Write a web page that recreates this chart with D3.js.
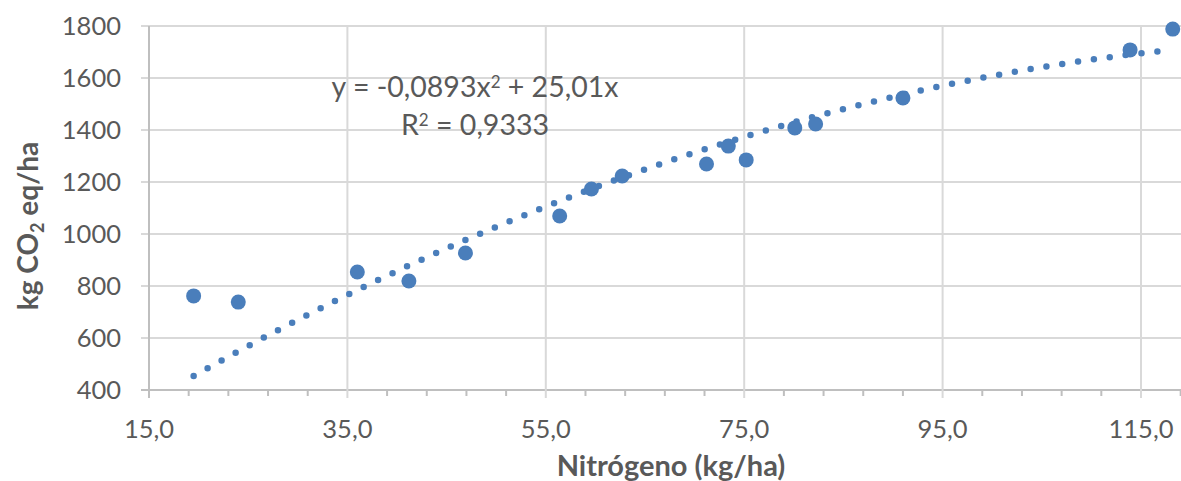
<!DOCTYPE html>
<html>
<head>
<meta charset="utf-8">
<script src="https://cdn.jsdelivr.net/npm/d3@7"></script>
<style>
  body { margin: 0; background: #fff; }
  text { font-family: Lato, "Open Sans", sans-serif; }
</style>
</head>
<body>
<div class="chart"></div>
<script>
// nitrogen applied (kg/ha) and emissions (kg CO2 eq/ha)
var nitrogen = [19.5, 24.0, 36.0, 41.2, 46.9, 56.4, 59.6, 62.7, 71.2, 73.4, 75.2, 80.1, 82.2, 91.0, 113.9, 118.2];
var emissions = [762, 738, 854, 819, 927, 1069, 1173, 1223, 1269, 1338, 1285, 1408, 1423, 1523, 1708, 1788];

// polynomial trendline (order 2, intercept 0)
var trendCoef = [-0.0893, 25.01];
var trendLabel = ['y = -0,0893x', '2', ' + 25,01x'];
var r2Label = ['R', '2', ' = 0,9333'];

var xTicks = [15, 35, 55, 75, 95, 115];
var yTicks = [400, 600, 800, 1000, 1200, 1400, 1600, 1800];

function init() {
  var width = 1181,
      height = 481,
      left = 149,
      right = 1181,
      top = 26,
      bottom = 390,
      blue = '#4a7ebb',
      grid = '#d9d9d9',
      label = '#595959';

  var x = d3.scaleLinear().domain([15, 119]).range([left, 149 + 104 * 9.92]);
  var y = d3.scaleLinear().domain([400, 1800]).range([bottom, top]);

  var svg = d3.select('.chart')
    .append('svg')
      .attr('width', width)
      .attr('height', height);

  // horizontal gridlines + y ticks
  svg.append('g').selectAll('line').data(yTicks).enter()
    .append('line')
      .attr('x1', left - 8)
      .attr('x2', right)
      .attr('y1', function(d) { return y(d); })
      .attr('y2', function(d) { return y(d); })
      .style('stroke', function(d) { return d === 400 ? '#bfbfbf' : grid; })
      .style('stroke-width', 2);

  // vertical gridlines
  svg.append('g').selectAll('line').data(xTicks).enter()
    .append('line')
      .attr('x1', function(d) { return x(d); })
      .attr('x2', function(d) { return x(d); })
      .attr('y1', top)
      .attr('y2', bottom + 8)
      .style('stroke', function(d) { return d === 15 ? '#bfbfbf' : grid; })
      .style('stroke-width', 2);

  // minor x ticks every 4
  var minor = d3.range(15, 120, 4).filter(function(d) { return (d - 15) % 20 !== 0; });
  svg.append('g').selectAll('line').data(minor).enter()
    .append('line')
      .attr('x1', function(d) { return x(d); })
      .attr('x2', function(d) { return x(d); })
      .attr('y1', bottom)
      .attr('y2', bottom + 6)
      .style('stroke', '#bfbfbf')
      .style('stroke-width', 2);

  // tick labels
  svg.append('g').selectAll('text').data(yTicks).enter()
    .append('text')
      .attr('x', 121)
      .attr('y', function(d) { return y(d); })
      .attr('dy', '0.36em')
      .attr('text-anchor', 'end')
      .style('font-size', '25.5px')
      .style('fill', label)
      .text(function(d) { return d; });

  svg.append('g').selectAll('text').data(xTicks).enter()
    .append('text')
      .attr('x', function(d) { return x(d); })
      .attr('y', 438)
      .attr('text-anchor', 'middle')
      .style('font-size', '25.5px')
      .style('fill', label)
      .text(function(d) { return d.toFixed(1).replace('.', ','); });

  // axis titles
  svg.append('text')
      .attr('x', 671)
      .attr('y', 476)
      .attr('text-anchor', 'middle')
      .style('font-size', '29px')
      .style('font-weight', 'bold')
      .style('fill', label)
      .text('Nitrógeno (kg/ha)');

  var yTitle = svg.append('text')
      .attr('transform', 'translate(38,226) rotate(-90)')
      .attr('text-anchor', 'middle')
      .style('font-size', '28px')
      .style('font-weight', 'bold')
      .style('fill', label);
  yTitle.append('tspan').text('kg CO');
  yTitle.append('tspan').attr('dy', 6).style('font-size', '18px').text('2');
  yTitle.append('tspan').attr('dy', -6).text(' eq/ha');

  // trendline
  var xMin = d3.min(nitrogen), xMax = d3.max(nitrogen);
  var trendX = d3.range(xMin, xMax, 0.25).concat([xMax]);
  var line = d3.line()
    .x(function(d) { return x(d); })
    .y(function(d) { return y(trendCoef[0] * d * d + trendCoef[1] * d); });

  svg.append('path')
      .datum(trendX)
      .attr('d', line)
      .style('fill', 'none')
      .style('stroke', blue)
      .style('stroke-width', 6.5)
      .style('stroke-linecap', 'round')
      .style('stroke-dasharray', '0 16');

  // points
  svg.append('g').selectAll('circle').data(nitrogen).enter()
    .append('circle')
      .attr('cx', function(d) { return x(d); })
      .attr('cy', function(d, i) { return y(emissions[i]); })
      .attr('r', 7.5)
      .style('fill', blue);

  // equation label
  function richText(parts, cx, cy) {
    var t = svg.append('text')
        .attr('x', cx)
        .attr('y', cy)
        .attr('text-anchor', 'middle')
        .style('font-size', '28.5px')
        .style('fill', label);
    t.append('tspan').text(parts[0]);
    t.append('tspan').attr('dy', -9).style('font-size', '17px').text(parts[1]);
    t.append('tspan').attr('dy', 9).text(parts[2]);
  }
  richText(trendLabel, 475, 97);
  richText(r2Label, 475, 135);
}

d3.select(window).on('load', init);
</script>
</body>
</html>
